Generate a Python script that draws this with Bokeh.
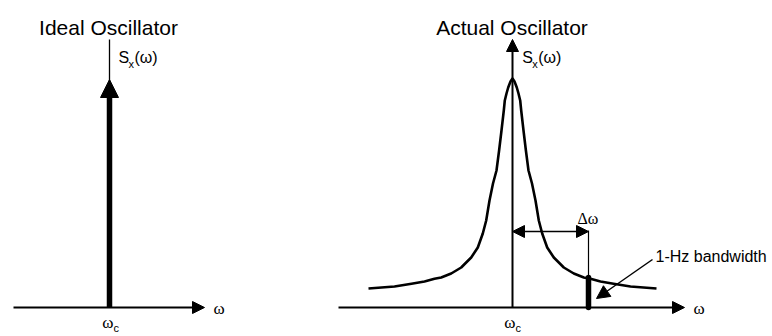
from bokeh.plotting import figure
from bokeh.models import Range1d, Arrow, NormalHead, ColumnDataSource
from bokeh.layouts import row
from bokeh.core.properties import value
from bokeh.embed import file_html
from bokeh.resources import INLINE

# ---- data (offset from carrier wc, spectral level above the axis) ----
titles = ["Ideal Oscillator", "Actual Oscillator"]
half_offset = [0, 2, 4.3, 6, 7.7, 8.7, 11, 13.4, 16, 19.5, 23, 26.3, 29.7, 34.7, 41.3,
               51.3, 61.3, 71.3, 78, 88, 101, 118, 144]
half_level = [229, 226, 220, 214, 207, 197, 177, 157, 137, 124, 107, 87, 74, 60, 50,
              40, 34, 30, 28.7, 26, 23.7, 21, 19]
ideal_level = 228          # height of the delta (impulse) at wc
delta_omega = 76           # offset of the 1-Hz bandwidth slot from wc
slot_level = 30            # spectrum level at wc + delta_omega
bandwidth_label = "1-Hz bandwidth"

# symmetric spectrum around wc
psd_offset = [-d for d in half_offset[::-1]] + half_offset[1:]
psd_level = half_level[::-1] + half_level[1:]

SANS = value("Liberation Sans")
SERIF = value("Liberation Serif")
AX_Y_TOP = 307  # axis sits 307 px below top
H = 336


def make_fig(width, x_left):
    p = figure(width=width, height=H, output_backend="svg", toolbar_location=None,
               x_range=Range1d(x_left, x_left + width), y_range=Range1d(AX_Y_TOP - H, AX_Y_TOP),
               min_border=0, x_axis_location=None, y_axis_location=None)
    p.grid.visible = False
    p.outline_line_color = None
    p.background_fill_color = "white"
    p.border_fill_color = "white"
    return p


def head(size, lw=1):
    return NormalHead(size=size, fill_color="black", line_color="black", line_width=lw)


def labels(p, sx_left, wc_right):
    # S_x(w)
    p.text(x=[sx_left], y=[250.5], text=["S"], text_font=SANS, text_font_size="16px",
           text_align="left", text_baseline="middle", text_color="black")
    p.text(x=[sx_left + 10], y=[243.5], text=["x"], text_font=SANS, text_font_size="11px",
           text_align="left", text_baseline="middle", text_color="black")
    p.text(x=[sx_left + 16], y=[250.5], text=["(ω)"], text_font=SANS, text_font_size="16px",
           text_align="left", text_baseline="middle", text_color="black")
    # w_c
    p.text(x=[wc_right], y=[-14.5], text=["ω"], text_font=SERIF, text_font_size="17px",
           text_align="right", text_baseline="middle", text_color="black")
    p.text(x=[wc_right], y=[-20.5], text=["c"], text_font=SANS, text_font_size="11px",
           text_align="left", text_baseline="middle", text_color="black")


# ---------------- Ideal oscillator ----------------
pl = make_fig(300, -109)
pl.text(x=[-1], y=[280], text=[titles[0]], text_font=SANS, text_font_size="21px",
        text_align="center", text_baseline="alphabetic", text_color="black")
pl.add_layout(Arrow(end=head(12), x_start=-96, y_start=0, x_end=95, y_end=0,
                    line_width=2, line_color="black"))
pl.segment(x0=[0], y0=[0], x1=[0], y1=[268], line_width=1.3, line_color="black")
pl.add_layout(Arrow(end=head(18), x_start=0, y_start=0, x_end=0, y_end=ideal_level,
                    line_width=5.5, line_color="black"))
pl.text(x=[104], y=[-0.5], text=["ω"], text_font=SERIF, text_font_size="17px",
        text_align="left", text_baseline="middle", text_color="black")
labels(pl, 9, 4)

# ---------------- Actual oscillator ----------------
pr = make_fig(472, -212)
pr.text(x=[-0.5], y=[280], text=[titles[1]], text_font=SANS, text_font_size="21px",
        text_align="center", text_baseline="alphabetic", text_color="black")
pr.add_layout(Arrow(end=head(12), x_start=-174, y_start=0, x_end=172, y_end=0,
                    line_width=2, line_color="black"))
pr.add_layout(Arrow(end=head(12), x_start=0, y_start=0, x_end=0, y_end=268,
                    line_width=2, line_color="black"))
src = ColumnDataSource(dict(x=psd_offset, y=psd_level))
pr.line("x", "y", source=src, line_width=2.6, line_color="black", line_join="round")

# delta-omega dimension
pr.add_layout(Arrow(start=head(12), end=head(12), x_start=0, y_start=76, x_end=delta_omega, y_end=76,
                    line_width=1.5, line_color="black"))
pr.segment(x0=[delta_omega], y0=[0], x1=[delta_omega], y1=[77], line_width=1.2, line_color="black")
pr.segment(x0=[delta_omega], y0=[0], x1=[delta_omega], y1=[slot_level], line_width=5.5,
           line_color="black", line_cap="round")
pr.text(x=[65], y=[89], text=["Δω"], text_font=SERIF, text_font_size="16px",
        text_align="left", text_baseline="middle", text_color="black")

# 1-Hz bandwidth pointer
pr.text(x=[143], y=[51], text=[bandwidth_label], text_font=SANS, text_font_size="16px",
        text_align="left", text_baseline="alphabetic", text_color="black")
pr.add_layout(Arrow(end=head(13), x_start=140, y_start=48, x_end=84, y_end=9,
                    line_width=1.5, line_color="black"))

pr.text(x=[181], y=[-0.5], text=["ω"], text_font=SERIF, text_font_size="17px",
        text_align="left", text_baseline="middle", text_color="black")
labels(pr, 9.7, 3)

layout = row(pl, pr, spacing=0)
open("out.html", "w").write(file_html(layout, INLINE))
